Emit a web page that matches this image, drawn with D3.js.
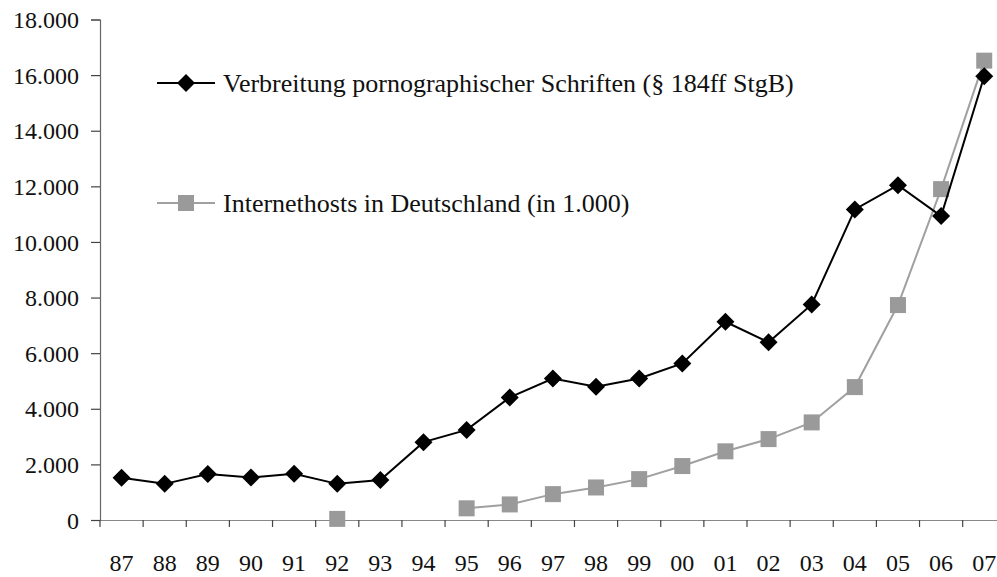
<!DOCTYPE html>
<html>
<head>
<meta charset="utf-8">
<script src="https://cdn.jsdelivr.net/npm/d3@7"></script>
<style>
  html, body { margin: 0; padding: 0; background: #fff; }
  svg { display: block; }
  text { font-family: "Liberation Serif", "Times New Roman", serif; fill: #111; }
</style>
</head>
<body>
<svg id="chart" width="997" height="577"></svg>
<script>
const years = ["87","88","89","90","91","92","93","94","95","96","97","98","99","00","01","02","03","04","05","06","07"];
const pornValues = [1520,1300,1650,1530,1660,1300,1440,2800,3240,4410,5090,4790,5090,5630,7130,6390,7750,11170,12040,10930,15960];
const hostValues = [null,null,null,null,null,40,null,null,420,560,930,1170,1470,1940,2470,2910,3510,4780,7730,11900,16520];
const yTicks = [0,2000,4000,6000,8000,10000,12000,14000,16000,18000];
const seriesNames = ["Verbreitung pornographischer Schriften (§ 184ff StgB)", "Internethosts in Deutschland (in 1.000)"];

const svg = d3.select("#chart");
const mLeft = 100, mBottom = 520, mTop = 19.5, mRight = 1005.8;

const x = d3.scaleBand().domain(years).range([mLeft, mRight]).padding(0);
const y = d3.scaleLinear().domain([0, 18000]).range([mBottom, mTop]);

const fmt = v => v === 0 ? "0" : d3.format(",")(v).replace(/,/g, ".");
const FONT = "'Liberation Serif', 'Times New Roman', serif";

// Y axis
const yAxis = svg.append("g")
  .attr("transform", `translate(${mLeft},0)`)
  .call(d3.axisLeft(y).tickValues(yTicks).tickFormat(fmt).tickSize(9).tickPadding(12));
yAxis.select(".domain").attr("stroke", "#666").attr("stroke-width", 1.2);
yAxis.selectAll(".tick line").attr("stroke", "#444").attr("stroke-width", 1.2);
yAxis.selectAll(".tick text").style("font-size", "24px").attr("fill", "#111")
  .style("font-family", FONT).attr("dy", "0.34em");

// X axis (labels at band centers)
const xAxis = svg.append("g")
  .attr("transform", `translate(0,${mBottom})`)
  .call(d3.axisBottom(x).tickSize(0).tickPadding(34));
xAxis.select(".domain").attr("stroke", "#888").attr("stroke-width", 1.2);
xAxis.selectAll(".tick text").style("font-size", "24px").attr("fill", "#111")
  .style("font-family", FONT);

// boundary ticks on x axis
const bounds = d3.range(years.length).map(i => x(years[i]));
svg.append("g").selectAll("line").data(bounds).join("line")
  .attr("x1", d => d).attr("x2", d => d)
  .attr("y1", mBottom).attr("y2", mBottom + 7)
  .attr("stroke", "#444").attr("stroke-width", 1.2);

const cx = d => x(d) + x.bandwidth() / 2;

// Host series (gray)
const hostData = years.map((yr, i) => ({ yr, v: hostValues[i] }));
const hostLine = d3.line().defined(d => d.v !== null).x(d => cx(d.yr)).y(d => y(d.v));
svg.append("path").datum(hostData).attr("d", hostLine)
  .attr("fill", "none").attr("stroke", "#a0a0a0").attr("stroke-width", 2);
svg.append("g").selectAll("rect").data(hostData.filter(d => d.v !== null)).join("rect")
  .attr("x", d => cx(d.yr) - 8).attr("y", d => y(d.v) - 8)
  .attr("width", 16).attr("height", 16).attr("fill", "#9a9a9a");

// Porn series (black)
const pornData = years.map((yr, i) => ({ yr, v: pornValues[i] }));
const pornLine = d3.line().x(d => cx(d.yr)).y(d => y(d.v));
svg.append("path").datum(pornData).attr("d", pornLine)
  .attr("fill", "none").attr("stroke", "#000").attr("stroke-width", 2);
const diamond = s => `M0,${-s}L${s},0L0,${s}L${-s},0Z`;
svg.append("g").selectAll("path").data(pornData).join("path")
  .attr("transform", d => `translate(${cx(d.yr)},${y(d.v)})`)
  .attr("d", diamond(9)).attr("fill", "#000");

// Legend
const legend = [
  { name: seriesNames[0], y: 83, color: "#000", marker: "diamond" },
  { name: seriesNames[1], y: 203, color: "#a0a0a0", marker: "square" }
];
legend.forEach(l => {
  const g = svg.append("g");
  g.append("line").attr("x1", 157).attr("x2", 215).attr("y1", l.y).attr("y2", l.y)
    .attr("stroke", l.color).attr("stroke-width", 2);
  if (l.marker === "diamond") {
    g.append("path").attr("transform", `translate(186,${l.y})`).attr("d", diamond(9)).attr("fill", "#000");
  } else {
    g.append("rect").attr("x", 178).attr("y", l.y - 8).attr("width", 16).attr("height", 16).attr("fill", "#9a9a9a");
  }
  g.append("text").attr("x", 223).attr("y", l.y).attr("dy", "0.34em")
    .style("font-family", FONT).style("font-size", "26px").text(l.name);
});
</script>
</body>
</html>
